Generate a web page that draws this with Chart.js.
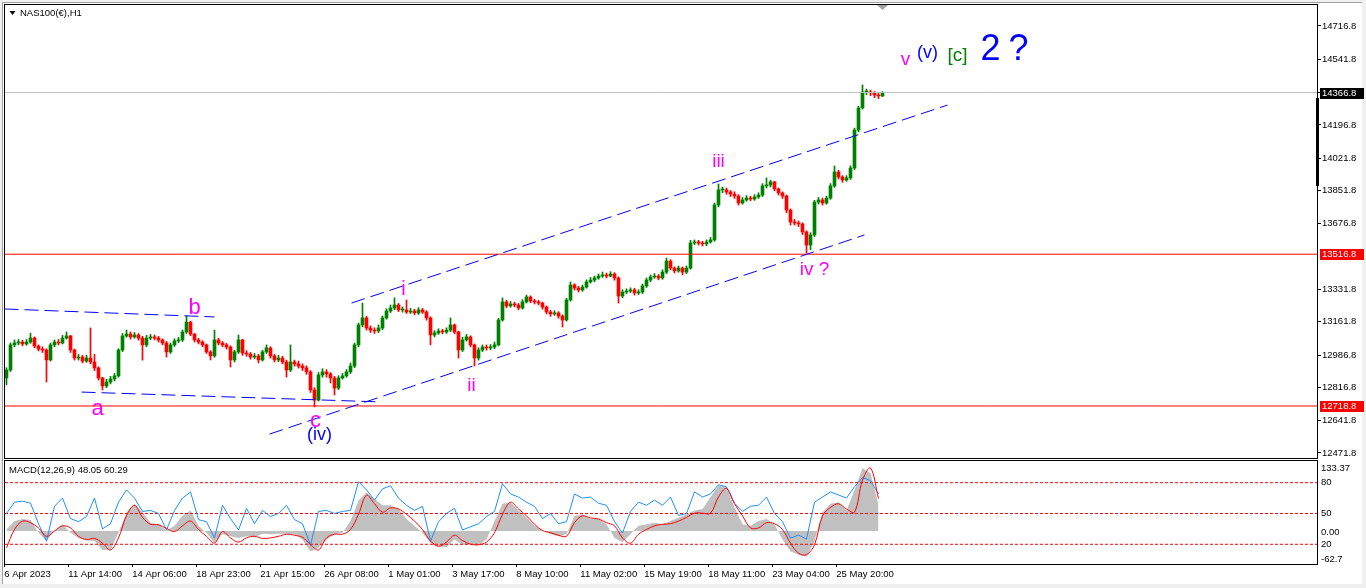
<!DOCTYPE html>
<html>
<head>
<meta charset="utf-8">
<script src="https://cdn.jsdelivr.net/npm/chart.js@4.4.0/dist/chart.umd.min.js"></script>
<style>
  html, body { margin: 0; padding: 0; background: #f0f0f0; }
  #wrap { position: relative; width: 1366px; height: 588px; overflow: hidden; background: #f0f0f0; }
  #paper { position: absolute; left: 2px; top: 2px; width: 1359px; height: 581px; background: #fff;
           border-left: 1px solid #a0a0a0; border-top: 1px solid #a0a0a0; }
  #main { position: absolute; left: 0; top: 0; }
  #macd { position: absolute; left: 0; top: 459px; }
</style>
</head>
<body>
<div id="wrap">
  <div id="paper"></div>
  <canvas id="main" width="1366" height="459"></canvas>
  <canvas id="macd" width="1366" height="129"></canvas>
</div>
<script>
// ---- price panel data (one candle = 4 H1 bars) ----
const firstOpen = 12866;
const closes = [
  12908,13040,13050,13055,13045,13055,13076,13034,13018,13013,
  12961,13040,13055,13050,13076,13087,13013,12971,12976,12955,
  12971,12950,12919,12866,12824,12845,12861,12877,13013,13087,
  13097,13082,13092,13076,13040,13076,13082,13076,13066,13050,
  13003,13040,13061,13066,13108,13160,13097,13066,13055,13040,
  13003,12982,13066,13050,13040,13029,12961,13003,13066,12997,
  12992,12976,12982,12961,13003,13024,12982,12961,12971,12950,
  12908,12950,12940,12929,12919,12898,12803,12750,12882,12898,
  12887,12866,12813,12866,12877,12898,12929,13040,13145,13182,
  13129,13118,13113,13129,13182,13218,13234,13250,13224,13224,
  13213,13218,13208,13224,13213,13182,13092,13103,13113,13108,
  13118,13145,13108,13013,13066,13082,13040,12971,13013,13029,
  13024,13029,13040,13171,13266,13245,13255,13250,13234,13266,
  13292,13271,13266,13260,13239,13213,13203,13208,13192,13171,
  13276,13355,13339,13329,13344,13371,13381,13392,13402,13408,
  13402,13413,13392,13297,13318,13323,13329,13313,13318,13350,
  13381,13397,13402,13392,13423,13481,13444,13429,13444,13423,
  13444,13576,13581,13576,13571,13581,13592,13776,13855,13855,
  13844,13833,13823,13786,13802,13812,13807,13818,13828,13876,
  13881,13897,13860,13839,13823,13749,13686,13681,13676,13634,
  13565,13618,13791,13802,13786,13812,13876,13949,13923,13907,
  13918,13970,14170,14286,14370,14370,14365,14354,14349,14365
];
const highs = [
  12920,13050,13066,13068,13064,13068,13102,13082,13040,13030,
  13020,13050,13066,13068,13090,13108,13090,13018,12990,12985,
  12985,13129,12990,12925,12870,12860,12875,12890,13020,13100,
  13118,13108,13105,13100,13085,13090,13095,13092,13085,13072,
  13058,13050,13072,13080,13118,13192,13165,13100,13075,13062,
  13045,13010,13118,13075,13058,13048,13035,13012,13092,13070,
  13010,13000,12995,12990,13012,13040,13030,12990,12985,12980,
  12960,13040,12960,12955,12940,12930,12905,12815,12895,12915,
  12910,12895,12875,12878,12890,12910,12945,13050,13155,13260,
  13190,13140,13130,13145,13192,13230,13250,13287,13258,13240,
  13276,13232,13228,13236,13232,13220,13188,13115,13125,13122,
  13130,13182,13150,13112,13080,13095,13088,13045,13025,13040,
  13040,13042,13055,13180,13287,13275,13268,13265,13258,13278,
  13302,13298,13280,13275,13265,13245,13222,13220,13215,13198,
  13285,13371,13362,13348,13355,13382,13395,13402,13413,13423,
  13418,13425,13420,13398,13330,13335,13340,13338,13330,13360,
  13392,13408,13415,13410,13435,13497,13488,13450,13455,13450,
  13455,13590,13592,13590,13585,13592,13605,13786,13886,13870,
  13865,13852,13845,13830,13815,13825,13822,13830,13840,13888,
  13918,13905,13900,13865,13845,13828,13755,13700,13692,13682,
  13640,13630,13800,13815,13812,13822,13888,13981,13958,13930,
  13930,13982,14180,14295,14407,14385,14380,14372,14362,14372
];
const lows = [
  12830,12900,13030,13040,13035,13038,13048,13025,13008,13000,
  12845,12955,13030,13040,13045,13070,13000,12960,12960,12945,
  12948,12940,12905,12855,12803,12815,12835,12850,12870,13005,
  13080,13070,13075,13065,12960,13030,13068,13066,13055,13040,
  12976,12995,13032,13052,13058,13100,13088,13055,13045,13030,
  12995,12961,12975,13040,13030,13018,12924,12950,12995,12985,
  12980,12965,12968,12945,12955,12995,12970,12950,12952,12940,
  12871,12900,12928,12918,12905,12885,12790,12714,12745,12870,
  12870,12840,12777,12805,12860,12870,12890,12920,13030,13135,
  13118,13105,13100,13105,13120,13175,13210,13225,13215,13212,
  13205,13205,13198,13200,13205,13170,13040,13082,13095,13098,
  13100,13110,13098,12971,13005,13060,13030,12929,12960,13005,
  13012,13015,13020,13035,13165,13235,13238,13240,13225,13228,
  13260,13262,13255,13250,13228,13203,13190,13195,13180,13134,
  13165,13270,13328,13318,13322,13338,13365,13372,13385,13395,
  13392,13398,13380,13260,13288,13310,13315,13302,13305,13310,
  13342,13372,13390,13382,13385,13415,13435,13418,13422,13408,
  13415,13438,13568,13565,13560,13562,13575,13585,13765,13840,
  13832,13820,13810,13775,13780,13795,13798,13800,13810,13820,
  13865,13870,13850,13828,13810,13735,13670,13670,13662,13620,
  13523,13540,13610,13780,13775,13780,13805,13868,13912,13895,
  13900,13910,13962,14160,14280,14355,14350,14340,14335,14345
];
const priceTicks = [14716.8, 14541.8, 14366.8, 14196.8, 14021.8, 13851.8, 13676.8,
                    13331.8, 13161.8, 12986.8, 12816.8, 12641.8, 12471.8];
const bidPrice = 14366.8;
const levelPrices = [13516.8, 12718.8];

// trendlines, start and end as [candle index, price]
const trendStart = [[-0.5, 13229], [18.75, 12792], [65.75, 12571], [86.25, 13260]];
const trendEnd   = [[52, 13187], [93.75, 12740], [214.5, 13618], [235.25, 14301]];

// wave labels
const waveText  = ['a', 'b', 'c', '(iv)', 'i', 'ii', 'iii', 'iv ?', 'v', '(v)', '[c]', '2', '?'];
const waveIdx   = [22.75, 47, 77.25, 78.25, 99.25, 116.25, 178, 202, 224.75, 230.25, 237.75, 246, 253];
const wavePrice = [12703, 13234, 12640, 12566, 13329, 12824, 14002, 13434, 14538, 14575, 14559, 14591, 14591];

// ---- MACD window data (one point every 2 candles) ----
const macdHist = [
  3,19,23,21,-3,-19,0,13,-3,-13, -18,-19,-36,-36,-3,36,52,36,16,13,
  1,10,29,39,10,-3,-23,-6,-10,-13, -10,-12,-5,-6,-5,-5,-6,-16,-39,-32,
  -16,-6,-3,19,58,74,61,49,49,42, 23,10,-3,-23,-29,-31,-16,-26,-25,-27,
  -16,19,52,55,39,26,10,1,-6,-10, -6,29,32,23,23,13,-13,-21,-6,10,
  13,16,13,19,26,32,39,42,65,87, 84,45,13,10,19,23,13,-16,-39,-45,
  -49,-19,36,52,55,39,78,120,110,50
];
const macdSignal = [
  -32,3,19,16,6,-10,0,10,6,-10, -16,-14,-23,-36,-13,29,49,26,13,12,
  5,-1,10,19,3,-10,-23,-1,-13,-21, -13,-10,-14,-13,-10,-6,-8,-12,-26,-36,
  -13,-6,-6,3,32,68,52,36,44,42, 32,19,3,-19,-29,-21,-8,-18,-25,-26,
  -21,-3,32,55,42,29,13,1,-3,-8, -10,16,29,25,23,16,10,-13,-23,-6,
  3,10,13,14,19,26,34,34,34,65, 81,52,29,6,6,16,14,3,-23,-42,
  -45,-26,29,45,52,42,36,97,120,62
];
const oscLine = [
  50,61,62,60,40,23,57,65,45,42, 47,65,35,40,61,73,65,52,53,50,
  34,53,65,71,44,42,26,58,45,34, 55,40,53,47,50,58,44,40,19,52,
  53,50,52,53,81,73,63,74,77,65, 58,53,57,23,42,50,55,34,37,40,
  47,52,79,69,66,61,57,45,50,40, 42,69,65,66,60,58,42,31,52,61,
  58,63,58,66,48,50,71,66,69,78, 76,60,52,57,58,66,50,42,26,29,
  25,61,66,71,68,65,76,85,82,69
];
const oscLevels = [80, 50, 20];
const dateLabels = ['6 Apr 2023', '11 Apr 14:00', '14 Apr 06:00', '18 Apr 23:00', '21 Apr 15:00',
                    '26 Apr 08:00', '1 May 01:00', '3 May 17:00', '8 May 10:00', '11 May 02:00',
                    '15 May 19:00', '18 May 11:00', '23 May 04:00', '25 May 20:00'];
const dateTickStart = -0.55;
const dateTickStep = 16;

// ---- look ----
const FONT = 'Liberation Sans';
const AXIS_FONT = { family: FONT, size: 9.5 };
const UP = '#008000', DOWN = '#ff0000', MAGENTA = '#ff00ff', BLUE = '#0000ff';
const waveColor = [MAGENTA, MAGENTA, MAGENTA, BLUE, MAGENTA, MAGENTA, MAGENTA, MAGENTA, MAGENTA, BLUE, '#008000', BLUE, BLUE];
const waveSize  = [22, 22, 22, 18, 20, 19, 19, 19, 19, 18, 19, 36, 36];
const X_MIN = -0.375, X_MAX = 327.875;
const Y_MIN = 12445.3, Y_MAX = 14827.2;

const opens = closes.map((c, i) => i === 0 ? firstOpen : closes[i - 1]);
const candleColors = closes.map((c, i) => c >= opens[i] ? UP : DOWN);

const flatLine = (v, color) => ({
  type: 'line', data: [{ x: X_MIN, y: v }, { x: X_MAX, y: v }],
  borderColor: color, borderWidth: 1, pointRadius: 0, order: 1
});

const mainDatasets = [
  { type: 'bar', data: closes.map((c, i) => ({ x: i, y: [lows[i], highs[i]] })),
    backgroundColor: candleColors, barThickness: 1, grouped: false, borderWidth: 0, order: 4 },
  { type: 'bar', data: closes.map((c, i) => ({ x: i, y: [opens[i], c] })),
    backgroundColor: candleColors, barThickness: 3, minBarLength: 1, grouped: false, borderWidth: 0, order: 3 },
  flatLine(bidPrice, '#c0c0c0'),
  ...levelPrices.map(v => flatLine(v, '#ff0000')),
  ...trendStart.map((s, k) => ({
    type: 'line', data: [{ x: s[0], y: s[1] }, { x: trendEnd[k][0], y: trendEnd[k][1] }],
    borderColor: BLUE, borderWidth: 1, borderDash: [14, 6], pointRadius: 0, order: 0
  }))
];

const mainDecor = {
  id: 'mainDecor',
  afterDraw(chart) {
    const { ctx, chartArea: a, scales: { x, y } } = chart;
    ctx.save();
    ctx.strokeStyle = '#000';
    ctx.lineWidth = 1;
    ctx.strokeRect(a.left - 0.5, a.top - 0.5, a.right - a.left, a.bottom - a.top + 1);

    // black bar at the price scale
    ctx.fillStyle = '#000';
    ctx.fillRect(a.right - 2, 98, 3, 88);

    // highlighted prices
    ctx.font = `${AXIS_FONT.size}px "${FONT}"`;
    ctx.textBaseline = 'middle';
    ctx.textAlign = 'left';
    [[bidPrice, '#000'], [levelPrices[0], '#ff0000'], [levelPrices[1], '#ff0000']].forEach(([v, bg]) => {
      const py = Math.round(y.getPixelForValue(v));
      ctx.fillStyle = bg;
      ctx.fillRect(a.right + 2, py - 5, 44, 11);
      ctx.fillStyle = '#fff';
      ctx.fillText(v.toFixed(1), a.right + 4, py + 0.5);
    });

    // title
    ctx.fillStyle = '#000';
    ctx.beginPath();
    ctx.moveTo(9.5, 11); ctx.lineTo(15.5, 11); ctx.lineTo(12.5, 15); ctx.closePath();
    ctx.fill();
    ctx.fillText('NAS100(€),H1', 20, 13.5);

    // chart shift marker
    ctx.fillStyle = '#a0a0a0';
    ctx.beginPath();
    ctx.moveTo(877, 5); ctx.lineTo(888, 5); ctx.lineTo(882.5, 10); ctx.closePath();
    ctx.fill();

    // wave labels
    ctx.textAlign = 'center';
    waveText.forEach((t, i) => {
      ctx.font = `${waveSize[i]}px "${FONT}"`;
      ctx.fillStyle = waveColor[i];
      ctx.fillText(t, x.getPixelForValue(waveIdx[i]), y.getPixelForValue(wavePrice[i]));
    });
    ctx.restore();
  }
};

new Chart(document.getElementById('main'), {
  type: 'bar',
  data: { datasets: mainDatasets },
  options: {
    responsive: false, animation: false, devicePixelRatio: 1,
    layout: { padding: { left: 5, top: 5, right: 0, bottom: 1 } },
    plugins: { legend: { display: false }, tooltip: { enabled: false } },
    scales: {
      x: { type: 'linear', min: X_MIN, max: X_MAX, offset: false, grid: { offset: false }, display: false },
      y: {
        type: 'linear', position: 'right', min: Y_MIN, max: Y_MAX,
        afterFit: s => { s.width = 48; s.paddingTop = 0; s.paddingBottom = 0; },
        afterBuildTicks: s => { s.ticks = priceTicks.map(v => ({ value: v })); },
        ticks: { autoSkip: false, padding: 1, color: '#000', font: AXIS_FONT, callback: v => v.toFixed(1) },
        grid: { drawOnChartArea: false, tickLength: 3, color: '#000' },
        border: { display: false }
      }
    }
  },
  plugins: [mainDecor]
});

// ---- MACD window ----
const macdDecor = {
  id: 'macdDecor',
  afterDraw(chart) {
    const { ctx, chartArea: a, scales: { m, o } } = chart;
    ctx.save();
    ctx.strokeStyle = '#000';
    ctx.lineWidth = 1;
    ctx.strokeRect(a.left - 0.5, a.top - 0.5, a.right - a.left, a.bottom - a.top + 1);
    ctx.font = `${AXIS_FONT.size}px "${FONT}"`;
    ctx.fillStyle = '#000';
    ctx.textBaseline = 'middle';
    ctx.textAlign = 'left';
    ctx.fillText('MACD(12,26,9) 48.05 60.29', 9, a.top + 9);
    const lx = a.right + 3;
    ctx.fillText('133.37', lx, a.top + 7);
    ctx.fillText('0.00', lx, m.getPixelForValue(0) + 1.5);
    ctx.fillText('-62.7', lx, a.bottom - 5);
    oscLevels.forEach(v => ctx.fillText(String(v), lx, o.getPixelForValue(v)));
    ctx.restore();
  }
};

const everyOther = arr => arr.map((v, k) => ({ x: 2 * k, y: v }));

new Chart(document.getElementById('macd'), {
  type: 'line',
  data: {
    datasets: [
      { data: everyOther(macdHist), yAxisID: 'm', borderWidth: 0, pointRadius: 0,
        fill: 'origin', backgroundColor: '#c0c0c0', order: 5 },
      ...oscLevels.map(v => ({
        data: [{ x: X_MIN, y: v }, { x: X_MAX, y: v }], yAxisID: 'o',
        borderColor: '#ff0000', borderWidth: 1, borderDash: [3, 2], pointRadius: 0, order: 4
      })),
      { data: everyOther(oscLine), yAxisID: 'o', borderColor: '#1e90ff', borderWidth: 1,
        pointRadius: 0, order: 3 },
      { data: everyOther(macdSignal), yAxisID: 'm', borderColor: '#ff0000', borderWidth: 1,
        pointRadius: 0, tension: 0.35, order: 2 }
    ]
  },
  options: {
    responsive: false, animation: false, devicePixelRatio: 1,
    layout: { padding: { left: 5, top: 2, right: 48, bottom: 0 } },
    plugins: { legend: { display: false }, tooltip: { enabled: false } },
    scales: {
      x: {
        type: 'linear', position: 'bottom', min: X_MIN, max: X_MAX,
        afterFit: s => { s.height = 24; s.paddingLeft = 0; s.paddingRight = 0; },
        afterBuildTicks: s => { s.ticks = dateLabels.map((t, j) => ({ value: dateTickStart + j * dateTickStep })); },
        ticks: { autoSkip: false, maxRotation: 0, align: 'start', padding: 2, color: '#000',
                 font: AXIS_FONT, callback: (v, j) => dateLabels[j] },
        grid: { drawOnChartArea: false, tickLength: 3, color: '#000' },
        border: { display: false }
      },
      m: { type: 'linear', display: false, min: -62.7, max: 133.37 },
      o: { type: 'linear', display: false, min: 0.8, max: 101.1 }
    }
  },
  plugins: [macdDecor]
});
</script>
</body>
</html>
